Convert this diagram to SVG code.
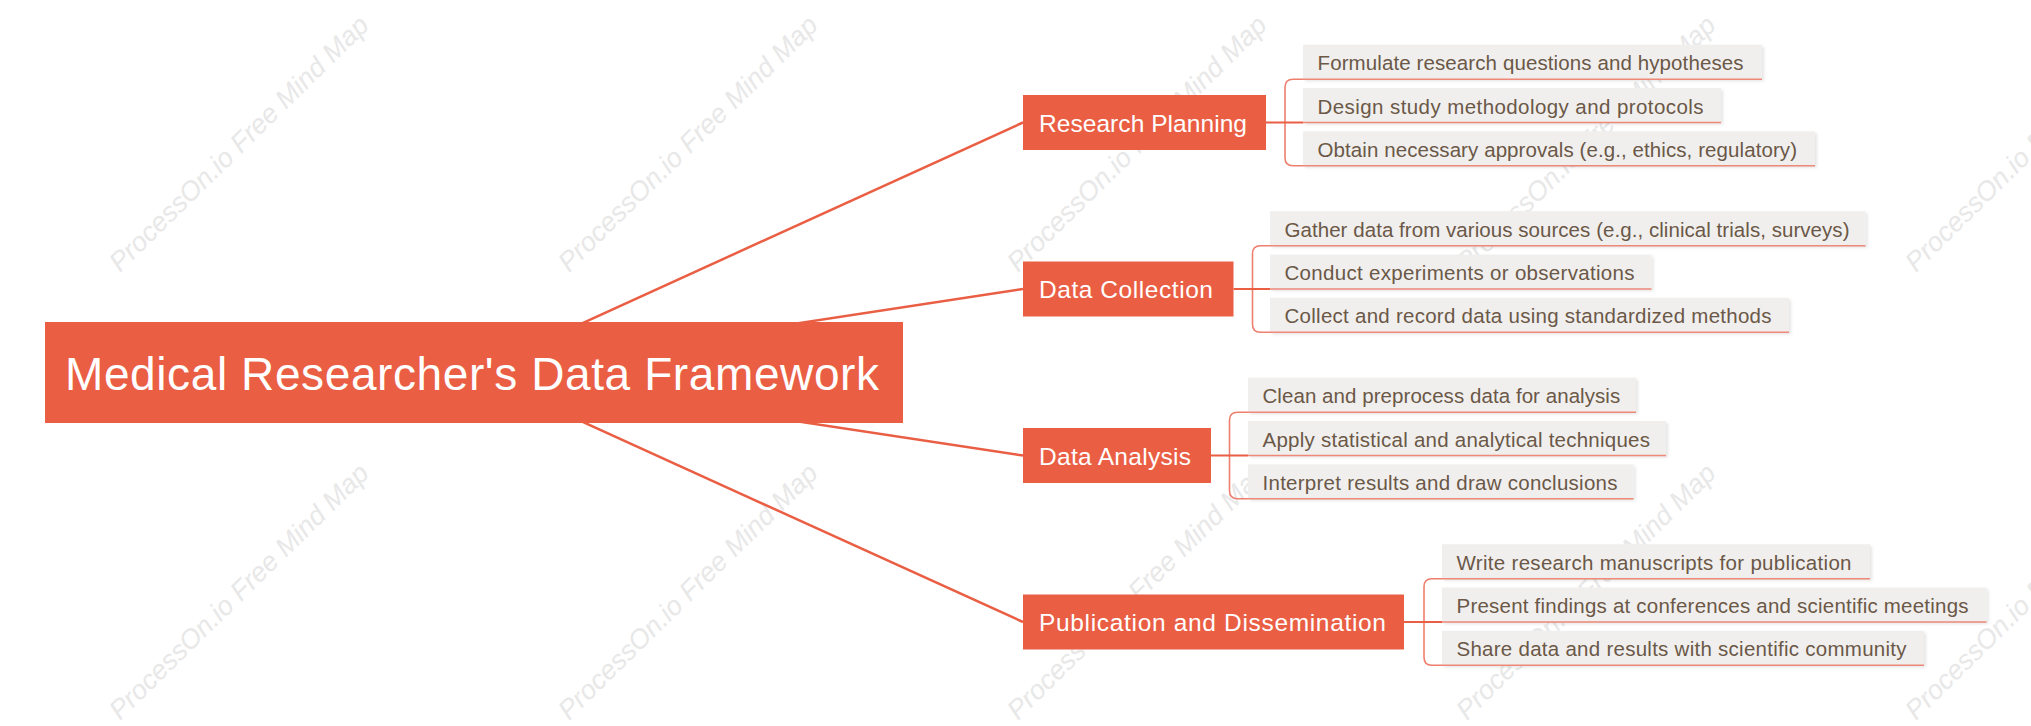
<svg xmlns="http://www.w3.org/2000/svg" width="2031" height="726" viewBox="0 0 2031 726">
<defs>
<filter id="sh" x="-5%" y="-30%" width="110%" height="170%">
<feDropShadow dx="2" dy="2" stdDeviation="1.6" flood-color="#000" flood-opacity="0.10"/>
</filter>
</defs>
<style>
text{font-family:"Liberation Sans",Arial,sans-serif}
.wm{font-style:italic;font-size:27px;fill:#E8E8E8}
.root{fill:#EA5E44}
.root-t{font-size:46px;fill:#FFFFFF}
.br{fill:#EA5E44}
.br-t{font-size:24.5px;fill:#FFFFFF}
.leaf{fill:#F0EFEE;filter:url(#sh)}
.leaf-t{font-size:20.5px;fill:#6B5847}
.ul{stroke:#EE8877;stroke-width:1.6;fill:none}
.conn{stroke:#EA5E44;stroke-width:2.5;fill:none}
.hl{stroke:#EA5E44;stroke-width:2;fill:none}
.brk{stroke:#EE7F6E;stroke-width:1.6;fill:none}
</style>
<rect x="0" y="0" width="2031" height="726" fill="#FFFFFF"/>

<g id="watermarks">
<text class="wm" transform="translate(120,273) rotate(-44.5)">ProcessOn.io Free Mind Map</text>
<text class="wm" transform="translate(569,273) rotate(-44.5)">ProcessOn.io Free Mind Map</text>
<text class="wm" transform="translate(1018,273) rotate(-44.5)">ProcessOn.io Free Mind Map</text>
<text class="wm" transform="translate(1467,273) rotate(-44.5)">ProcessOn.io Free Mind Map</text>
<text class="wm" transform="translate(1916,273) rotate(-44.5)">ProcessOn.io Free Mind Map</text>
<text class="wm" transform="translate(120,721) rotate(-44.5)">ProcessOn.io Free Mind Map</text>
<text class="wm" transform="translate(569,721) rotate(-44.5)">ProcessOn.io Free Mind Map</text>
<text class="wm" transform="translate(1018,721) rotate(-44.5)">ProcessOn.io Free Mind Map</text>
<text class="wm" transform="translate(1467,721) rotate(-44.5)">ProcessOn.io Free Mind Map</text>
<text class="wm" transform="translate(1916,721) rotate(-44.5)">ProcessOn.io Free Mind Map</text>
</g>

<g id="connectors">
<line class="conn" x1="474" y1="372.5" x2="1023" y2="122.5"/>
<line class="conn" x1="474" y1="372.5" x2="1023" y2="289"/>
<line class="conn" x1="474" y1="372.5" x2="1023" y2="455.5"/>
<line class="conn" x1="474" y1="372.5" x2="1023" y2="622"/>

<path class="brk" d="M1303,79.2 H1293 Q1285,79.2 1285,87.2 V157.8 Q1285,165.8 1293,165.8 H1303"/>
<line class="hl" x1="1266" y1="122.5" x2="1303" y2="122.5"/>

<path class="brk" d="M1270,245.7 H1260.5 Q1252.5,245.7 1252.5,253.7 V324.3 Q1252.5,332.3 1260.5,332.3 H1270"/>
<line class="hl" x1="1233.5" y1="289" x2="1270" y2="289"/>

<path class="brk" d="M1248,412.2 H1237.5 Q1229.5,412.2 1229.5,420.2 V490.8 Q1229.5,498.8 1237.5,498.8 H1248"/>
<line class="hl" x1="1211" y1="455.5" x2="1248" y2="455.5"/>

<path class="brk" d="M1442,578.7 H1432 Q1424,578.7 1424,586.7 V657.3 Q1424,665.3 1432,665.3 H1442"/>
<line class="hl" x1="1404" y1="622" x2="1442" y2="622"/>
</g>

<g id="root">
<rect class="root" x="45" y="322" width="858" height="101"/>
<text class="root-t" x="65" y="390" textLength="814">Medical Researcher's Data Framework</text>
</g>

<g id="branch-research-planning">
<rect class="br" x="1023" y="95" width="243" height="55"/>
<text class="br-t" x="1039" y="131.5" textLength="208">Research Planning</text>
</g>
<g id="branch-data-collection">
<rect class="br" x="1023" y="261.5" width="210.5" height="55"/>
<text class="br-t" x="1039" y="298" textLength="174">Data Collection</text>
</g>
<g id="branch-data-analysis">
<rect class="br" x="1023" y="428" width="188" height="55"/>
<text class="br-t" x="1039" y="464.5" textLength="152">Data Analysis</text>
</g>
<g id="branch-publication">
<rect class="br" x="1023" y="594.5" width="381" height="55"/>
<text class="br-t" x="1039" y="631" textLength="347">Publication and Dissemination</text>
</g>

<g id="leaf-r1">
<rect class="leaf" x="1303" y="44.7" width="459" height="34.5"/>
<line class="ul" x1="1303" y1="79.2" x2="1762" y2="79.2"/>
<text class="leaf-t" x="1317.5" y="70.2" textLength="426">Formulate research questions and hypotheses</text>
</g>
<g id="leaf-r2">
<rect class="leaf" x="1303" y="88" width="418" height="34.5"/>
<line class="ul" x1="1303" y1="122.5" x2="1721" y2="122.5"/>
<text class="leaf-t" x="1317.5" y="113.5" textLength="386">Design study methodology and protocols</text>
</g>
<g id="leaf-r3">
<rect class="leaf" x="1303" y="131.3" width="512" height="34.5"/>
<line class="ul" x1="1303" y1="165.8" x2="1815" y2="165.8"/>
<text class="leaf-t" x="1317.5" y="156.8" textLength="479.5">Obtain necessary approvals (e.g., ethics, regulatory)</text>
</g>

<g id="leaf-c1">
<rect class="leaf" x="1270" y="211.2" width="595.5" height="34.5"/>
<line class="ul" x1="1270" y1="245.7" x2="1865.5" y2="245.7"/>
<text class="leaf-t" x="1284.5" y="236.7" textLength="565">Gather data from various sources (e.g., clinical trials, surveys)</text>
</g>
<g id="leaf-c2">
<rect class="leaf" x="1270" y="254.5" width="381.5" height="34.5"/>
<line class="ul" x1="1270" y1="289" x2="1651.5" y2="289"/>
<text class="leaf-t" x="1284.5" y="280" textLength="350">Conduct experiments or observations</text>
</g>
<g id="leaf-c3">
<rect class="leaf" x="1270" y="297.8" width="519" height="34.5"/>
<line class="ul" x1="1270" y1="332.3" x2="1789" y2="332.3"/>
<text class="leaf-t" x="1284.5" y="323.3" textLength="487">Collect and record data using standardized methods</text>
</g>

<g id="leaf-a1">
<rect class="leaf" x="1248" y="377.7" width="388" height="34.5"/>
<line class="ul" x1="1248" y1="412.2" x2="1636" y2="412.2"/>
<text class="leaf-t" x="1262.5" y="403.2" textLength="357.7">Clean and preprocess data for analysis</text>
</g>
<g id="leaf-a2">
<rect class="leaf" x="1248" y="421" width="418" height="34.5"/>
<line class="ul" x1="1248" y1="455.5" x2="1666" y2="455.5"/>
<text class="leaf-t" x="1262.5" y="446.5" textLength="387.5">Apply statistical and analytical techniques</text>
</g>
<g id="leaf-a3">
<rect class="leaf" x="1248" y="464.3" width="385.5" height="34.5"/>
<line class="ul" x1="1248" y1="498.8" x2="1633.5" y2="498.8"/>
<text class="leaf-t" x="1262.5" y="489.8" textLength="355">Interpret results and draw conclusions</text>
</g>

<g id="leaf-p1">
<rect class="leaf" x="1442" y="544.2" width="428" height="34.5"/>
<line class="ul" x1="1442" y1="578.7" x2="1870" y2="578.7"/>
<text class="leaf-t" x="1456.5" y="569.7" textLength="395">Write research manuscripts for publication</text>
</g>
<g id="leaf-p2">
<rect class="leaf" x="1442" y="587.5" width="544.5" height="34.5"/>
<line class="ul" x1="1442" y1="622" x2="1986.5" y2="622"/>
<text class="leaf-t" x="1456.5" y="613" textLength="512">Present findings at conferences and scientific meetings</text>
</g>
<g id="leaf-p3">
<rect class="leaf" x="1442" y="630.8" width="482" height="34.5"/>
<line class="ul" x1="1442" y1="665.3" x2="1924" y2="665.3"/>
<text class="leaf-t" x="1456.5" y="656.3" textLength="450">Share data and results with scientific community</text>
</g>
</svg>
